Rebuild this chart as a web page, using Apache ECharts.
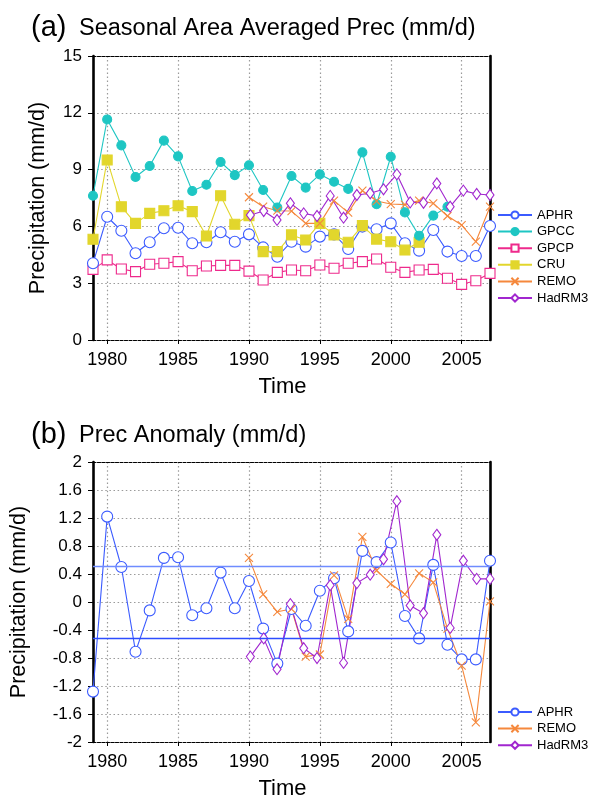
<!DOCTYPE html>
<html><head><meta charset="utf-8">
<script src="https://cdn.jsdelivr.net/npm/echarts@6/dist/echarts.min.js"></script>
<style>html,body{margin:0;padding:0;background:#fff}#c{width:590px;height:801px}</style>
</head><body><div id="c"></div>
<script>
// ---------- data ----------
const years = [1979,1980,1981,1982,1983,1984,1985,1986,1987,1988,1989,1990,1991,1992,1993,1994,1995,1996,1997,1998,1999,2000,2001,2002,2003,2004,2005,2006,2007];
const remoYears = [1990,1991,1992,1993,1994,1995,1996,1997,1998,1999,2000,2001,2002,2003,2004,2005,2006,2007];
// HadRM3 points are drawn on 19 evenly spaced positions between 1990 and 2007 in the original
const hadYears = [1990.1,1991.04,1991.98,1992.92,1993.86,1994.8,1995.73,1996.67,1997.61,1998.55,1999.49,2000.43,2001.37,2002.31,2003.25,2004.19,2005.12,2006.06,2007.0];

// (a) seasonal area averaged precipitation (mm/d)
const aphr = [4.05,6.51,5.77,4.58,5.16,5.90,5.93,5.11,5.16,5.69,5.19,5.58,4.89,4.40,5.19,4.93,5.46,5.58,4.81,5.99,5.85,6.16,5.11,4.72,5.81,4.67,4.44,4.44,6.02];
const gpcc = [7.62,11.65,10.28,8.61,9.19,10.53,9.70,7.87,8.20,9.40,8.71,9.23,7.92,7.00,8.66,8.05,8.75,8.36,7.98,9.91,7.17,9.68,6.74,5.51,6.57,7.04];
const gpcp = [3.73,4.23,3.75,3.61,4.00,4.05,4.14,3.66,3.91,3.94,3.94,3.64,3.17,3.57,3.70,3.66,3.96,3.79,4.05,4.14,4.28,3.84,3.57,3.70,3.73,3.26,2.94,3.13,3.52];
const cru  = [5.32,9.51,7.04,6.16,6.69,6.83,7.09,6.78,5.49,7.62,6.11,6.57,4.67,4.67,5.55,5.28,6.16,5.55,5.16,6.04,5.33,5.19,4.75,5.16];
const remo = [7.54,7.04,6.83,6.81,6.16,6.16,7.36,6.73,7.89,7.34,7.18,7.15,7.36,7.22,6.55,6.07,5.19,7.04];
const hadrm3 = [6.60,6.81,6.34,7.22,6.69,6.55,7.61,6.46,7.66,7.75,7.96,8.75,7.27,7.25,8.27,7.04,7.89,7.71,7.66];

// (b) anomalies (mm/d)
const aphrAnom = [-1.28,1.22,0.50,-0.71,-0.12,0.63,0.64,-0.19,-0.09,0.42,-0.09,0.30,-0.38,-0.88,-0.10,-0.34,0.16,0.34,-0.42,0.73,0.57,0.85,-0.20,-0.52,0.53,-0.61,-0.82,-0.82,0.59];
const remoAnom = [0.63,0.11,-0.14,-0.10,-0.78,-0.75,0.38,-0.24,0.93,0.45,0.26,0.11,0.41,0.28,-0.38,-0.91,-1.72,0.01];
const hadAnom  = [-0.78,-0.52,-0.96,-0.03,-0.66,-0.80,0.24,-0.87,0.27,0.39,0.61,1.44,-0.05,-0.16,0.96,-0.37,0.59,0.33,0.33];
const stdBand = [0.51,-0.52];

const xTicks = [1980,1985,1990,1995,2000,2005];

// ---------- styles ----------
const FF = '"Liberation Sans", Arial, Helvetica, sans-serif';
const C = {aphr:'#3b5bff', gpcc:'#1ec6c3', gpcp:'#ee2a8c', cru:'#e2d62c', remo:'#f5883c', had:'#a126cf'};
const XSYM = 'path://M0,0L10,10M10,0L0,10';

function pairs(xs, ys){ return ys.map((v,i)=>[xs[i], v]); }

const grids = [
  {left:93, top:56, width:397, height:284},
  {left:93, top:462, width:397, height:283}
];
const gridLine = {show:true, lineStyle:{color:'#9a9a9a', width:1.2, type:[1.5,2.6]}};

function xBottom(gi){
  return {type:'value', gridIndex:gi, position:'bottom', min:1979, max:2007, splitNumber:5,
    axisLine:{show:true, onZero:false, lineStyle:{color:'#000', width:1.2, type:[3,1.5]}},
    axisTick:{show:true, inside:false, length:4, customValues:xTicks, lineStyle:{color:'#000', width:1}},
    axisLabel:{customValues:xTicks, formatter:(v)=>String(v), fontSize:18, color:'#000', margin:11, fontFamily:FF},
    splitLine:gridLine,
    name:'Time', nameLocation:'middle', nameGap:36,
    nameTextStyle:{fontSize:22, color:'#000', fontFamily:FF, padding:[0,18,0,0]}};
}
function xTop(gi){
  return {type:'value', gridIndex:gi, position:'top', min:1979, max:2007,
    axisLine:{show:true, onZero:false, lineStyle:{color:'#000', width:1.2, type:[3,1.5]}},
    axisTick:{show:false}, axisLabel:{show:false}, splitLine:{show:false}};
}
function yLeft(gi, min, max, interval, gap){
  return {type:'value', gridIndex:gi, position:'left', min:min, max:max, interval:interval,
    axisLine:{show:true, onZero:false, lineStyle:{color:'#000', width:2.6}},
    axisTick:{show:true, inside:false, length:5, lineStyle:{color:'#000', width:1}},
    axisLabel:{fontSize:17, color:'#000', margin:11, fontFamily:FF},
    splitLine:gridLine,
    name:'Precipitation (mm/d)', nameLocation:'middle', nameGap:gap,
    nameTextStyle:{fontSize:21.5, color:'#000', fontFamily:FF}};
}
function yRight(gi, min, max){
  return {type:'value', gridIndex:gi, position:'right', min:min, max:max,
    axisLine:{show:true, onZero:false, lineStyle:{color:'#000', width:2.6}},
    axisTick:{show:false}, axisLabel:{show:false}, splitLine:{show:false}};
}

function lineSeries(name, data, color, symbol, size, fill, xi, yi){
  return {name:name, type:'line', xAxisIndex:xi, yAxisIndex:yi, data:data,
    symbol:symbol, symbolSize:size, showAllSymbol:true,
    lineStyle:{color:color, width:1.1},
    itemStyle:{color:fill, borderColor:color, borderWidth:1.1},
    emphasis:{disabled:true}, animation:false};
}

const series = [
  lineSeries('GPCP', pairs(years, gpcp), C.gpcp, 'rect', 10, '#fff', 0, 0),
  lineSeries('APHR', pairs(years, aphr), C.aphr, 'circle', 11, '#fff', 0, 0),
  lineSeries('CRU', pairs(years, cru), C.cru, 'rect', 10, C.cru, 0, 0),
  lineSeries('GPCC', pairs(years, gpcc), C.gpcc, 'circle', 9, C.gpcc, 0, 0),
  lineSeries('REMO', pairs(remoYears, remo), C.remo, XSYM, 8, 'rgba(0,0,0,0)', 0, 0),
  lineSeries('HadRM3', pairs(hadYears, hadrm3), C.had, 'diamond', [8,11], '#fff', 0, 0),

  lineSeries('APHR', pairs(years, aphrAnom), C.aphr, 'circle', 11, '#fff', 2, 2),
  lineSeries('REMO', pairs(remoYears, remoAnom), C.remo, XSYM, 8, 'rgba(0,0,0,0)', 2, 2),
  lineSeries('HadRM3', pairs(hadYears, hadAnom), C.had, 'diamond', [8,11], '#fff', 2, 2)
];
// ±1 std lines in panel (b)
series[6].markLine = {silent:true, symbol:'none', label:{show:false}, animation:false,
  data:[{yAxis:stdBand[0], lineStyle:{color:'#6f8cff', width:1.3, type:'solid'}},
        {yAxis:stdBand[1], lineStyle:{color:'#2d4dff', width:1.3, type:'solid'}}]};

const legendBase = {orient:'vertical', left:497, padding:0, itemWidth:34, itemHeight:9, itemGap:3.6,
  textStyle:{fontSize:13, color:'#000', fontFamily:FF}, selectedMode:false, inactiveColor:'#000'};

const option = {
  backgroundColor:'#fff',
  animation:false,
  title:[
    {text:'(a)', left:26, top:8, textStyle:{fontSize:29, fontWeight:'normal', color:'#000', fontFamily:FF}},
    {text:'Seasonal Area Averaged Prec (mm/d)', left:74, top:12, textStyle:{fontSize:23.5, fontWeight:'normal', color:'#000', fontFamily:FF}},
    {text:'(b)', left:26, top:415, textStyle:{fontSize:29, fontWeight:'normal', color:'#000', fontFamily:FF}},
    {text:'Prec Anomaly (mm/d)', left:74, top:419, textStyle:{fontSize:23.5, fontWeight:'normal', color:'#000', fontFamily:FF}}
  ],
  grid:grids,
  xAxis:[xBottom(0), xTop(0), xBottom(1), xTop(1)],
  yAxis:[yLeft(0,0,15,3,44), yRight(0,0,15), yLeft(1,-2,2,0.4,63), yRight(1,-2,2)],
  legend:[
    Object.assign({}, legendBase, {top:208.5, data:['APHR','GPCC','GPCP','CRU','REMO','HadRM3']}),
    Object.assign({}, legendBase, {top:705.5, data:['APHR','REMO','HadRM3']})
  ],
  series:series
};
const chart = echarts.init(document.getElementById('c'), null, {renderer:'canvas'});
chart.setOption(option);
</script>
</body></html>
